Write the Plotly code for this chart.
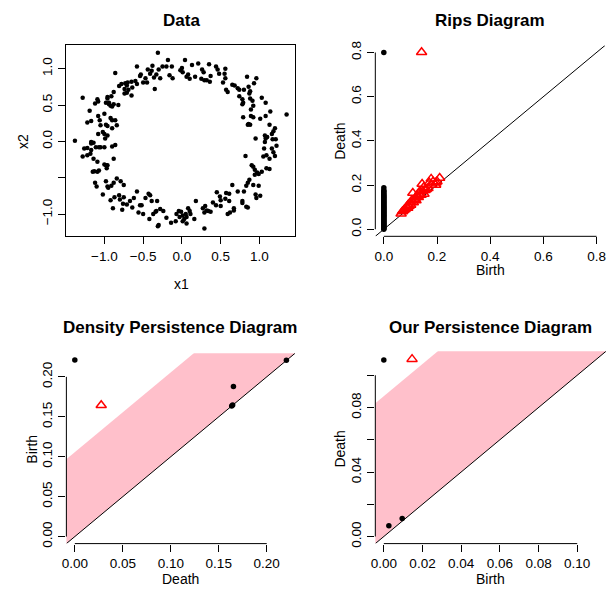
import plotly.graph_objects as go

# ---------------- data ----------------
data_points = [
    (-0.31, 1.22), (-0.18, 1.12), (0.04, 1.12), (0.21, 1.07), (-0.38, 1.04), (-0.58, 1.03),
    (-0.25, 1.03), (-0.20, 1.03), (-0.13, 1.03), (0.00, 1.01), (-0.02, 0.98), (0.13, 1.05),
    (0.26, 0.99), (0.28, 0.95), (0.35, 1.06), (0.46, 0.99), (0.44, 1.03), (0.56, 1.00),
    (-0.44, 0.99), (-0.39, 0.97), (-0.30, 0.99), (-0.41, 0.93), (-0.86, 0.94), (-0.53, 0.92),
    (-0.54, 0.90), (-0.33, 0.92), (-0.36, 0.88), (-0.28, 0.87), (-0.16, 0.91), (-0.12, 0.87),
    (0.01, 0.95), (0.08, 0.92), (0.06, 0.89), (0.17, 0.89), (0.10, 0.86), (0.25, 0.86),
    (0.29, 0.84), (0.32, 0.84), (0.37, 0.90), (0.36, 0.82), (0.48, 0.93), (0.53, 0.81),
    (0.56, 0.87), (0.55, 0.93), (0.84, 0.89), (0.96, 0.87), (0.93, 0.80), (-0.47, 0.87),
    (-0.45, 0.81), (-0.50, 0.81), (-0.60, 0.83), (-0.65, 0.82), (-0.58, 0.79), (-0.73, 0.80),
    (-0.78, 0.79), (-0.70, 0.81), (-0.81, 0.76), (-0.71, 0.77), (-0.74, 0.72), (-0.64, 0.74),
    (-0.69, 0.71), (-0.35, 0.72), (0.65, 0.78), (0.68, 0.77), (0.72, 0.73), (0.74, 0.71),
    (0.80, 0.71), (0.86, 0.75), (0.88, 0.69), (0.87, 0.66), (0.57, 0.71), (0.59, 0.68),
    (-0.71, 0.67), (-0.74, 0.66), (-0.65, 0.63), (-0.88, 0.68), (-0.91, 0.62), (-0.96, 0.61),
    (-0.96, 0.59), (-0.94, 0.53), (-0.94, 0.51), (-0.98, 0.53), (-0.92, 0.49), (-0.90, 0.48),
    (-0.82, 0.50), (-0.88, 0.51), (-1.09, 0.58), (-1.12, 0.52), (-1.08, 0.55), (-1.28, 0.60),
    (-1.19, 0.42), (0.74, 0.62), (0.78, 0.58), (0.79, 0.53), (0.78, 0.51), (0.88, 0.59),
    (0.91, 0.56), (1.03, 0.60), (1.08, 0.53), (1.14, 0.41), (0.89, 0.44), (0.92, 0.49),
    (0.79, 0.33), (0.89, 0.35), (0.92, 0.33), (1.01, 0.31), (1.08, 0.35), (1.35, 0.37),
    (0.86, 0.24), (0.88, 0.23), (0.85, 0.23), (1.13, 0.23), (1.20, 0.18), (1.18, 0.14),
    (1.16, 0.10), (1.10, 0.06), (1.08, 0.04), (1.07, -0.01), (0.95, 0.04), (1.07, 0.08),
    (1.17, 0.03), (1.21, 0.03), (1.22, -0.06), (1.06, -0.10), (1.16, -0.10), (1.18, -0.15),
    (1.20, -0.20), (1.13, -0.24), (1.05, -0.21), (1.09, -0.19), (0.82, -0.20), (0.90, -0.33),
    (0.92, -0.35), (0.94, -0.39), (0.97, -0.43), (0.99, -0.45), (1.03, -0.42), (1.09, -0.37),
    (1.13, -0.38), (0.94, -0.46), (0.87, -0.53), (0.85, -0.57), (0.92, -0.60), (0.99, -0.61),
    (0.83, -0.61), (0.80, -0.69), (0.72, -0.69), (0.65, -0.60), (0.95, -0.73), (1.01, -0.75),
    (0.96, -0.78), (0.78, -0.82), (0.78, -0.85), (0.83, -0.90), (0.85, -0.91), (0.61, -0.72),
    (0.57, -0.71), (0.56, -0.79), (0.49, -0.76), (0.50, -0.81), (0.61, -0.82), (0.45, -0.70),
    (0.40, -0.84), (0.44, -0.88), (0.50, -0.89), (0.67, -0.92), (0.67, -0.95), (0.59, -1.00),
    (0.62, -0.98), (0.30, -0.89), (0.27, -0.92), (0.32, -0.95), (0.34, -0.96), (0.37, -0.97),
    (0.29, -0.98), (0.18, -0.82), (0.08, -0.92), (0.10, -0.96), (0.11, -1.00), (0.06, -1.04),
    (0.03, -1.07), (0.01, -1.10), (0.06, -1.13), (0.05, -1.00), (-0.04, -0.96), (-0.07, -1.00),
    (-0.01, -0.97), (0.01, -1.02), (-0.03, -1.04), (-0.08, -1.10), (0.16, -1.07), (0.29, -1.20),
    (-0.14, -1.12), (-0.20, -1.05), (-0.24, -0.96), (-0.28, -0.93), (-0.33, -0.96), (-0.37, -1.00),
    (-0.34, -0.97), (-0.42, -1.07), (-0.30, -1.15), (-0.31, -1.17), (-0.39, -0.82), (-0.43, -0.72),
    (-0.41, -0.74), (-0.32, -0.82), (-0.47, -0.78), (-0.54, -0.88), (-0.56, -0.98), (-0.50, -1.00),
    (-0.52, -0.88), (-0.58, -0.69), (-0.62, -0.78), (-0.67, -0.82), (-0.71, -0.87), (-0.64, -0.91),
    (-0.75, -0.77), (-0.77, -0.94), (-0.76, -0.86), (-0.81, -0.74), (-0.87, -0.77), (-0.92, -0.81),
    (-0.89, -0.92), (-0.80, -0.80), (-0.95, -0.64), (-1.02, -0.73), (-1.10, -0.62), (-1.12, -0.57),
    (-1.15, -0.42), (-1.13, -0.41), (-1.09, -0.42), (-1.07, -0.40), (-0.98, -0.55), (-0.96, -0.62),
    (-0.91, -0.61), (-0.88, -0.57), (-0.84, -0.51), (-0.79, -0.55), (-0.75, -0.60), (-0.88, -0.24),
    (-0.96, -0.33), (-0.98, -0.33), (-0.97, -0.37), (-1.00, -0.32), (-1.26, -0.10), (-1.17, -0.12),
    (-1.18, -0.17), (-1.22, -0.19), (-1.17, -0.01), (-1.17, -0.03), (-1.14, -0.02), (-1.11, -0.08),
    (-1.07, -0.08), (-1.05, -0.08), (-1.00, -0.08), (-0.90, -0.07), (-0.86, -0.05), (-1.22, -0.09),
    (-1.28, -0.21), (-1.38, 0.01), (-1.08, 0.10), (-1.02, 0.13), (-1.00, 0.10), (-0.96, 0.21),
    (-0.98, 0.23), (-1.05, 0.22), (-1.06, 0.29), (-1.17, 0.28), (-1.22, 0.26), (-1.08, 0.35),
    (-1.00, 0.38), (-0.92, 0.32), (-0.90, 0.29), (-0.86, 0.29), (-0.84, 0.22), (-0.90, 0.18),
    (-0.99, 0.04), (-0.96, 0.08), (-1.14, -0.24), (-1.09, -0.28),
]
data_x1 = [p[0] for p in data_points]
data_x2 = [p[1] for p in data_points]

# Rips diagram: H0 (birth 0) deaths, H1 (birth, death)
rips_h0_death = [0.8, 0.188, 0.176, 0.171, 0.166, 0.160, 0.156, 0.151, 0.147, 0.142, 0.138,
                 0.133, 0.129, 0.124, 0.120, 0.116, 0.111, 0.107, 0.103, 0.099, 0.095, 0.091,
                 0.087, 0.083, 0.079, 0.075, 0.071, 0.067, 0.063, 0.059, 0.055, 0.051, 0.047,
                 0.043, 0.039, 0.035, 0.031, 0.027, 0.023, 0.019, 0.015, 0.011, 0.007, 0.003, 0.0]
rips_h1 = [(0.142, 0.801), (0.065, 0.070), (0.070, 0.080), (0.075, 0.086), (0.080, 0.091),
           (0.085, 0.100), (0.090, 0.096), (0.091, 0.110), (0.095, 0.105), (0.100, 0.121),
           (0.101, 0.110), (0.105, 0.130), (0.109, 0.164), (0.111, 0.121), (0.115, 0.135),
           (0.119, 0.142), (0.121, 0.130), (0.125, 0.151), (0.130, 0.145), (0.131, 0.160),
           (0.135, 0.171), (0.144, 0.205), (0.140, 0.155), (0.146, 0.172), (0.150, 0.190),
           (0.151, 0.160), (0.155, 0.176), (0.160, 0.181), (0.166, 0.186), (0.171, 0.210),
           (0.178, 0.228), (0.180, 0.200), (0.185, 0.215), (0.195, 0.200), (0.196, 0.211),
           (0.210, 0.232), (0.200, 0.216)]

# Density persistence diagram
dens_h0 = [(0.0, 0.221), (0.1653, 0.188), (0.1635, 0.1635), (0.1645, 0.1648), (0.2205, 0.2208)]
dens_h1 = [(0.0275, 0.1645)]
dens_band = 0.1056

# Our persistence diagram
our_h0 = [(0.0, 0.1094), (0.0026, 0.0067), (0.0095, 0.0112)]
our_h1 = [(0.0146, 0.1100)]
our_band = 0.087

# tick definitions
data_xticks = [-1.0, -0.5, 0.0, 0.5, 1.0]
data_xticktext = ["\u22121.0", "\u22120.5", "0.0", "0.5", "1.0"]
data_yticks = [-1.0, -0.5, 0.0, 0.5, 1.0]
data_yticktext = ["\u22121.0", "", "0.0", "0.5", "1.0"]
rips_ticks = [0.0, 0.2, 0.4, 0.6, 0.8]
rips_ticktext = ["0.0", "0.2", "0.4", "0.6", "0.8"]
dens_ticks = [0.0, 0.05, 0.10, 0.15, 0.20]
dens_ticktext = ["0.00", "0.05", "0.10", "0.15", "0.20"]
our_xticks = [0.0, 0.02, 0.04, 0.06, 0.08, 0.10]
our_xticktext = ["0.00", "0.02", "0.04", "0.06", "0.08", "0.10"]
our_yticks = [0.0, 0.02, 0.04, 0.06, 0.08, 0.10]
our_yticktext = ["0.00", "", "0.04", "", "0.08", ""]

# ranges
data_xrange = [-1.49, 1.46]
data_yrange = [-1.30, 1.32]
rips_range = [-0.032, 0.832]
dens_range = [-0.0088, 0.2296]
our_range = [-0.0044, 0.1149]

# ---------------- layout helpers ----------------
W, H = 610, 592
FONT = "Liberation Sans, Arial, Helvetica, sans-serif"


def px_x(v):
    return v / W


def px_y(v):
    return 1 - v / H


def axis(dom, rng, tv, tt, angle=0, box=False, standoff=1):
    return dict(domain=dom, range=rng, tickmode="array", tickvals=tv, ticktext=tt,
                tickangle=angle, ticks="outside", ticklen=7, tickwidth=1, tickcolor="black",
                showgrid=False, zeroline=False, showline=box, mirror=box, linecolor="black",
                linewidth=1, tickfont=dict(family=FONT, size=13.5, color="black"),
                ticklabelstandoff=standoff, fixedrange=True)


panels = {
    1: dict(x=(62, 293), y=(42, 235)),
    2: dict(x=(374, 606), y=(42, 235.5)),
    3: dict(x=(62, 293), y=(354, 547)),
    4: dict(x=(374, 607), y=(352, 547)),
}


def xdom(p):
    a, b = panels[p]["x"]
    return [px_x(a), px_x(b)]


def ydom(p):
    a, b = panels[p]["y"]
    return [px_y(b), px_y(a)]


fig = go.Figure()

# Panel 1: data
fig.add_trace(go.Scatter(x=data_x1, y=data_x2, mode="markers",
                         marker=dict(color="black", size=4.5), xaxis="x", yaxis="y"))

# Panel 2: Rips
fig.add_trace(go.Scatter(x=rips_range, y=rips_range, mode="lines",
                         line=dict(color="black", width=1), xaxis="x2", yaxis="y2"))
fig.add_trace(go.Scatter(x=[0.0] * len(rips_h0_death), y=rips_h0_death, mode="markers",
                         marker=dict(color="black", size=5.5), xaxis="x2", yaxis="y2"))
fig.add_trace(go.Scatter(x=[p[0] for p in rips_h1], y=[p[1] for p in rips_h1], mode="markers",
                         marker=dict(symbol="triangle-up-open", color="red", size=9,
                                     line=dict(width=1.5, color="red")),
                         xaxis="x2", yaxis="y2"))


def band_and_diag(rng, band, xa, ya):
    lo, hi = rng[0] - 1, rng[1] + 1
    fig.add_trace(go.Scatter(x=[lo, hi, hi, lo, lo], y=[lo, hi, hi + band, lo + band, lo],
                             mode="lines", fill="toself", fillcolor="#FFC0CB",
                             line=dict(width=0, color="#FFC0CB"), xaxis=xa, yaxis=ya))
    fig.add_trace(go.Scatter(x=rng, y=rng, mode="lines", line=dict(color="black", width=1),
                             xaxis=xa, yaxis=ya))


def diag_points(h0, h1, xa, ya):
    fig.add_trace(go.Scatter(x=[p[0] for p in h0], y=[p[1] for p in h0], mode="markers",
                             marker=dict(color="black", size=5.5), xaxis=xa, yaxis=ya,
                             cliponaxis=False))
    fig.add_trace(go.Scatter(x=[p[0] for p in h1], y=[p[1] for p in h1], mode="markers",
                             marker=dict(symbol="triangle-up-open", color="red", size=9,
                                         line=dict(width=1.5, color="red")),
                             xaxis=xa, yaxis=ya, cliponaxis=False))


band_and_diag(dens_range, dens_band, "x3", "y3")
diag_points(dens_h0, dens_h1, "x3", "y3")
band_and_diag(our_range, our_band, "x4", "y4")
diag_points(our_h0, our_h1, "x4", "y4")

layout = dict(
    width=W, height=H, margin=dict(l=0, r=0, t=0, b=0), showlegend=False,
    paper_bgcolor="white", plot_bgcolor="white", font=dict(family=FONT, color="black"),
    xaxis=dict(axis(xdom(1), data_xrange, data_xticks, data_xticktext, box=True), anchor="y"),
    yaxis=dict(axis(ydom(1), data_yrange, data_yticks, data_yticktext, angle=-90, box=True), anchor="x"),
    xaxis2=dict(axis(xdom(2), rips_range, rips_ticks, rips_ticktext, standoff=0), anchor="y2"),
    yaxis2=dict(axis(ydom(2), rips_range, rips_ticks, rips_ticktext, angle=-90), anchor="x2"),
    xaxis3=dict(axis(xdom(3), dens_range, dens_ticks, dens_ticktext, standoff=0), anchor="y3"),
    yaxis3=dict(axis(ydom(3), dens_range, dens_ticks, dens_ticktext, angle=-90), anchor="x3"),
    xaxis4=dict(axis(xdom(4), our_range, our_xticks, our_xticktext, standoff=0), anchor="y4"),
    yaxis4=dict(axis(ydom(4), our_range, our_yticks, our_yticktext, angle=-90), anchor="x4"),
)
fig.update_layout(**layout)

# R-style axis lines spanning first..last tick
shapes = []
for n, xt, yt in [(2, rips_ticks, rips_ticks), (3, dens_ticks, dens_ticks), (4, our_xticks, our_yticks)]:
    shapes.append(dict(type="line", xref=f"x{n}", yref=f"y{n} domain", x0=min(xt), x1=max(xt),
                       y0=0, y1=0, line=dict(color="black", width=1), layer="above"))
    shapes.append(dict(type="line", xref=f"x{n} domain", yref=f"y{n}", x0=0, x1=0,
                       y0=min(yt), y1=max(yt), line=dict(color="black", width=1), layer="above"))
fig.update_layout(shapes=shapes)

# titles and axis labels
ann = []


def text(s, x, y, size=14, bold=False, angle=0):
    ann.append(dict(text=f"<b>{s}</b>" if bold else s, x=px_x(x), y=px_y(y), xref="paper",
                    yref="paper", showarrow=False, xanchor="center", yanchor="middle",
                    textangle=angle, borderpad=0,
                    font=dict(family=FONT, size=size, color="black")))


text("Data", 178, 17, 17, True)
text("x1", 178, 284)
text("x2", 18, 139, angle=-90)
text("Rips Diagram", 490, 17, 17, True)
text("Birth", 490, 270)
text("Death", 338, 139, angle=-90)
text("Density Persistence Diagram", 177, 328, 17, True)
text("Death", 177, 583)
text("Birth", 27, 451, angle=-90)
text("Our Persistence Diagram", 490, 328, 17, True)
text("Birth", 490, 583)
text("Death", 338, 451, angle=-90)
fig.update_layout(annotations=ann)

fig.write_html("out.html")
